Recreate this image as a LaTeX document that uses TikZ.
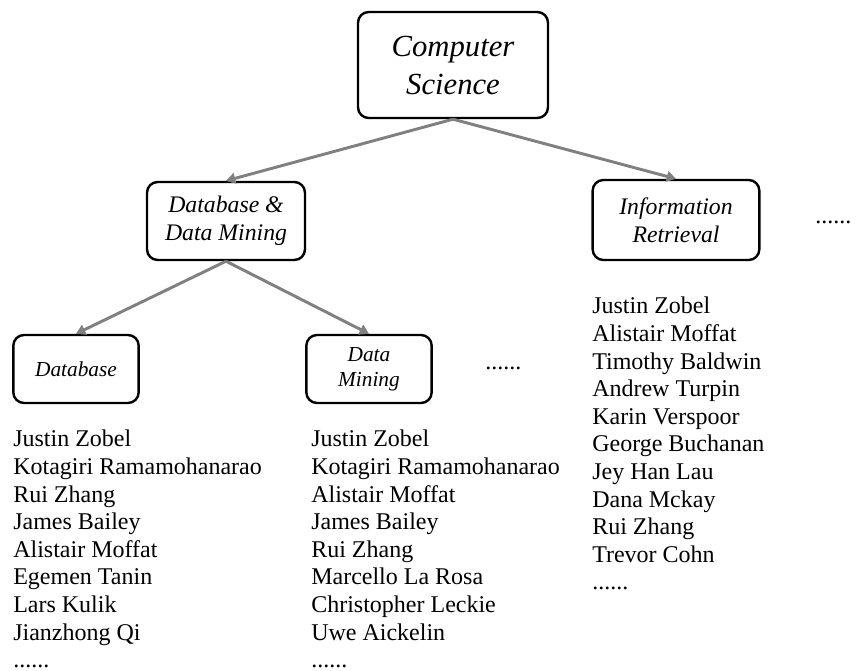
\documentclass[tikz,border=0pt]{standalone}
\usepackage{fontspec}
\setmainfont{Liberation Serif}
\usepackage{tikz}
\usetikzlibrary{arrows.meta}

\begin{document}
\begin{tikzpicture}[x=0.75pt, y=-0.75pt]
% Define styles
\tikzstyle{topic} = [rectangle, rounded corners=8pt, draw=black, line width=1.8pt, fill=white, align=center]
\tikzstyle{arrow} = [draw=gray, line width=2.2pt, -{Triangle[length=7pt, width=8pt]}]
\tikzstyle{names} = [anchor=north west, inner sep=0pt, align=left, font=\fontsize{18}{20.7}\selectfont]
\tikzstyle{more} = [anchor=base west, inner sep=0pt, font=\fontsize{18}{20.7}\selectfont]

\useasboundingbox (0,0) rectangle (857,671);

% Draw nodes
\node [topic, minimum width=142.5pt, minimum height=79.5pt, font=\itshape\fontsize{23}{28.5}\selectfont] (cs) at (453,65) {Computer\\Science};
\node [topic, minimum width=118.5pt, minimum height=58.5pt, font=\itshape\fontsize{17.8}{21}\selectfont] (ddm) at (226,221) {Database \&\\Data Mining};
\node [topic, minimum width=125pt, minimum height=60pt, font=\itshape\fontsize{17.8}{21}\selectfont] (ir) at (676,220) {Information\\Retrieval};
\node [topic, minimum width=94pt, minimum height=51pt, font=\itshape\fontsize{16}{18.75}\selectfont] (db) at (76,369) {Database};
\node [topic, minimum width=94pt, minimum height=51pt, font=\itshape\fontsize{16}{18.75}\selectfont] (dm) at (369,369) {Data\\Mining};

\node [more] (moretopics) at (815,223) {......};
\node [more] (moresub) at (485,369) {......};

% Draw arrows
\draw [arrow] (cs.south) -- (ddm.north);
\draw [arrow] (cs.south) -- (ir.north);
\draw [arrow] (ddm.south) -- (db.north);
\draw [arrow] (ddm.south) -- (dm.north);

% Add people lists
\node [names] (dbpeople) at (13,430) {Justin Zobel\\Kotagiri Ramamohanarao\\Rui Zhang\\James Bailey\\Alistair Moffat\\Egemen Tanin\\Lars Kulik\\Jianzhong Qi\\......};
\node [names] (dmpeople) at (311,430) {Justin Zobel\\Kotagiri Ramamohanarao\\Alistair Moffat\\James Bailey\\Rui Zhang\\Marcello La Rosa\\Christopher Leckie\\Uwe Aickelin\\......};
\node [names] (irpeople) at (592,297) {Justin Zobel\\Alistair Moffat\\Timothy Baldwin\\Andrew Turpin\\Karin Verspoor\\George Buchanan\\Jey Han Lau\\Dana Mckay\\Rui Zhang\\Trevor Cohn\\......};
\end{tikzpicture}
\end{document}
